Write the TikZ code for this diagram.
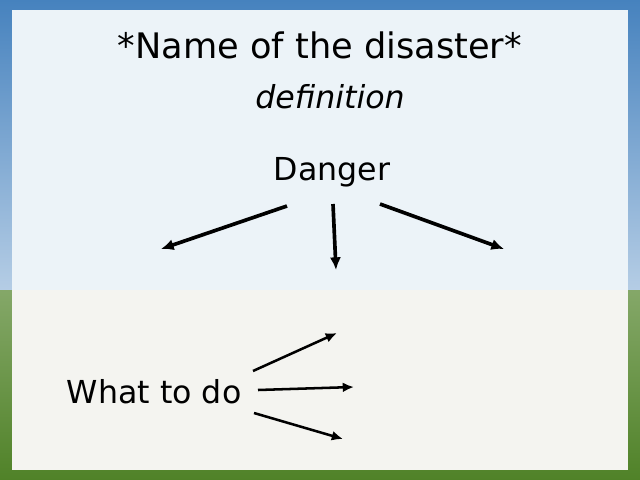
\documentclass[tikz,border=0pt]{standalone}
\usepackage{fontspec}
\setmainfont{DejaVu Sans}
\usetikzlibrary{positioning,arrows.meta}
\definecolor{sky}{RGB}{70,130,190}
\definecolor{grass}{RGB}{80,130,40}
\definecolor{paneltop}{RGB}{236,243,248}
\definecolor{panelbot}{RGB}{244,244,240}
\tikzset{
  title/.style={font=\fontsize{25}{29}\selectfont},
  label/.style={font=\fontsize{22.5}{26}\selectfont},
  bigarrow/.style={-{Latex[length=9pt,width=8pt]},line width=2.6pt},
  smallarrow/.style={-{Latex[length=8pt,width=7pt]},line width=1.8pt}
}
\begin{document}
\begin{tikzpicture}[x=0.025cm,y=-0.025cm]
    \useasboundingbox (0,0) rectangle (640,480);
    %% background
    \fill[top color=sky,bottom color=sky!40!white] (0,0) rectangle (640,290);
    \fill[top color=grass!70!white,bottom color=grass] (0,290) rectangle (640,480);
    \fill[paneltop] (12,10) rectangle (628,290);
    \fill[panelbot] (12,290) rectangle (628,470);

    \node[title] (name) at (320,45) {*Name of the disaster*};
    \node[label,font=\fontsize{22.5}{26}\selectfont\itshape] (def) at (330,97) {definition};
    \node[label] (danger) at (332,172) {Danger};
    \node[label,anchor=west] (todo) at (62,392) {What to do};

    %% danger arrows
    \coordinate (d1) at (287,206);
    \coordinate (d2) at (333,204);
    \coordinate (d3) at (380,204);
    \coordinate (e1) at (161,249);
    \coordinate (e2) at (336,270);
    \coordinate (e3) at (504,249);
    \draw[bigarrow] (d1) -- (e1);
    \draw[bigarrow] (d2) -- (e2);
    \draw[bigarrow] (d3) -- (e3);

    %% what to do arrows
    \coordinate (w1) at (253,371);
    \coordinate (w2) at (258,390);
    \coordinate (w3) at (254,413);
    \coordinate (t1) at (337,333);
    \coordinate (t2) at (354,387);
    \coordinate (t3) at (343,439);
    \draw[smallarrow] (w1) -- (t1);
    \draw[smallarrow] (w2) -- (t2);
    \draw[smallarrow] (w3) -- (t3);
\end{tikzpicture}
\end{document}
